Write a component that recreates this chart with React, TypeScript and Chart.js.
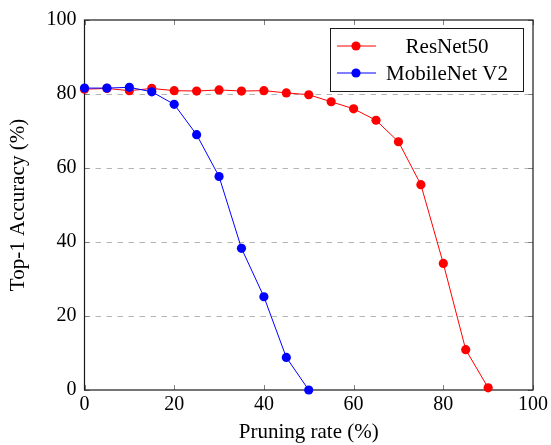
import React, { useEffect, useRef } from "react";
import { Chart, registerables } from "chart.js";

Chart.register(...registerables);

const resnetRates = [0, 5, 10, 15, 20, 25, 30, 35, 40, 45, 50, 55, 60, 65, 70, 75, 80, 85, 90];
const resnetAcc = [81.3, 81.5, 80.9, 81.5, 80.9, 80.8, 81.1, 80.8, 80.9, 80.3, 79.8, 77.9, 76.0, 72.9, 67.1, 55.5, 34.2, 10.9, 0.6];
const mobileRates = [0, 5, 10, 15, 20, 25, 30, 35, 40, 45, 50];
const mobileAcc = [81.6, 81.6, 81.8, 80.6, 77.2, 69.0, 57.7, 38.3, 25.2, 8.8, 0.0];
const axisTicks = [0, 20, 40, 60, 80, 100];
const gridValues = [20, 40, 60, 80];

const FONT = "'Liberation Serif', 'Times New Roman', serif";

const framePlugin = {
  id: "texFrame",
  beforeDatasetsDraw(chart: any) {
    const { ctx, chartArea, scales } = chart;
    const { left, right, top, bottom } = chartArea;
    ctx.save();
    // dashed horizontal grid
    ctx.strokeStyle = "#b4b4b4";
    ctx.lineWidth = 1;
    ctx.setLineDash([5.5, 5.5]);
    gridValues.forEach((v) => {
      const y = Math.round(scales.y.getPixelForValue(v)) + 0.5;
      ctx.beginPath();
      ctx.moveTo(left, y);
      ctx.lineTo(right, y);
      ctx.stroke();
    });
    ctx.setLineDash([]);
    // inward ticks
    ctx.strokeStyle = "#808080";
    const tl = 5;
    axisTicks.forEach((v) => {
      const x = Math.round(scales.x.getPixelForValue(v)) + 0.5;
      ctx.beginPath();
      ctx.moveTo(x, bottom);
      ctx.lineTo(x, bottom - tl);
      ctx.moveTo(x, top);
      ctx.lineTo(x, top + tl);
      ctx.stroke();
      const y = Math.round(scales.y.getPixelForValue(v)) + 0.5;
      ctx.beginPath();
      ctx.moveTo(left, y);
      ctx.lineTo(left + tl, y);
      ctx.moveTo(right, y);
      ctx.lineTo(right - tl, y);
      ctx.stroke();
    });
    // frame
    ctx.strokeStyle = "#1a1a1a";
    ctx.lineWidth = 1.2;
    ctx.strokeRect(left, top, right - left, bottom - top);
    ctx.restore();
  },
};

const legendPlugin = {
  id: "texLegend",
  afterDatasetsDraw(chart: any) {
    const { ctx, chartArea } = chart;
    const w = 193;
    const h = 63;
    const right = chartArea.right - 10;
    const top = chartArea.top + 8;
    const left = right - w;
    ctx.save();
    ctx.fillStyle = "#ffffff";
    ctx.fillRect(left, top, w, h);
    ctx.strokeStyle = "#1a1a1a";
    ctx.lineWidth = 1;
    ctx.strokeRect(Math.round(left) + 0.5, Math.round(top) + 0.5, w, h);
    chart.data.datasets.forEach((ds: any, i: number) => {
      const y = top + 18 + i * 27;
      ctx.strokeStyle = ds.borderColor;
      ctx.lineWidth = 1;
      ctx.beginPath();
      ctx.moveTo(left + 7, y);
      ctx.lineTo(left + 46, y);
      ctx.stroke();
      ctx.fillStyle = ds.backgroundColor;
      ctx.beginPath();
      ctx.arc(left + 26, y, 4.6, 0, Math.PI * 2);
      ctx.fill();
      ctx.fillStyle = "#000";
      ctx.font = `21px ${FONT}`;
      ctx.textAlign = "center";
      ctx.textBaseline = "middle";
      ctx.fillText(ds.label, left + 117, y + 1);
    });
    ctx.restore();
  },
};

export default function App() {
  const ref = useRef<HTMLCanvasElement | null>(null);

  useEffect(() => {
    if (!ref.current) return;
    const chart = new Chart(ref.current, {
      type: "line",
      data: {
        datasets: [
          {
            label: "ResNet50",
            data: resnetRates.map((x, i) => ({ x, y: resnetAcc[i] })),
            borderColor: "#ff0000",
            backgroundColor: "#ff0000",
            borderWidth: 1,
            pointRadius: 4.6,
            pointBorderWidth: 0,
            pointBackgroundColor: "#ff0000",
            clip: false as any,
            order: 1,
          },
          {
            label: "MobileNet V2",
            data: mobileRates.map((x, i) => ({ x, y: mobileAcc[i] })),
            borderColor: "#0000ff",
            backgroundColor: "#0000ff",
            borderWidth: 1,
            pointRadius: 4.6,
            pointBorderWidth: 0,
            pointBackgroundColor: "#0000ff",
            clip: false as any,
            order: 0,
          },
        ],
      },
      options: {
        responsive: false,
        animation: false,
        layout: { padding: { top: 17, right: 18, left: 0, bottom: 0 } },
        plugins: {
          legend: { display: false },
          tooltip: { enabled: false },
        },
        scales: {
          x: {
            type: "linear",
            min: 0,
            max: 100,
            afterFit: (s: any) => {
              s.height = 55;
            },
            afterBuildTicks: (s: any) => {
              s.ticks = axisTicks.map((v) => ({ value: v }));
            },
            grid: { display: false, drawTicks: false },
            border: { display: false },
            ticks: {
              padding: 3,
              color: "#000",
              font: { family: FONT, size: 20 },
              maxRotation: 0,
            },
            title: {
              display: true,
              text: "Pruning rate (%)",
              color: "#000",
              font: { family: FONT, size: 21 },
              padding: { top: 0, bottom: 0 },
            },
          },
          y: {
            type: "linear",
            min: 0,
            max: 100,
            afterFit: (s: any) => {
              s.width = 84.5;
            },
            afterBuildTicks: (s: any) => {
              s.ticks = axisTicks.map((v) => ({ value: v }));
            },
            grid: { display: false, drawTicks: false },
            border: { display: false },
            ticks: {
              padding: 8,
              color: "#000",
              font: { family: FONT, size: 20 },
            },
            title: {
              display: true,
              text: "Top-1 Accuracy (%)",
              color: "#000",
              font: { family: FONT, size: 21 },
              padding: { top: 6, bottom: 0 },
            },
          },
        },
      },
      plugins: [framePlugin, legendPlugin],
    });
    return () => chart.destroy();
  }, []);

  return (
    <div style={{ position: "fixed", left: 0, top: 0, width: 551, height: 445, background: "#fff" }}>
      <canvas ref={ref} width={551} height={445} style={{ display: "block" }} />
    </div>
  );
}
